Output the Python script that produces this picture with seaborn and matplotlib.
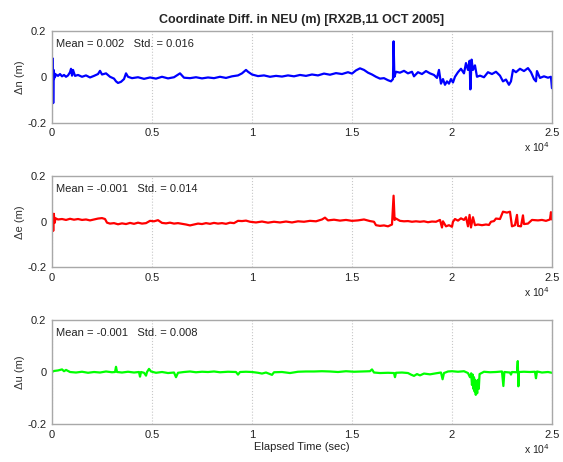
import numpy as np
import pandas as pd
import matplotlib
matplotlib.use("Agg")
import matplotlib.pyplot as plt
import seaborn as sns

# tempo (s) e differenze di coordinate (m)
t_n = [0, 40, 60, 80, 100, 120, 150, 200, 300, 400, 500, 600, 700, 800, 900, 950, 1000, 1050, 1150,
       1300, 1500, 1700, 1900, 2100, 2300, 2400, 2500, 2700, 2900, 3100, 3200, 3300, 3450, 3600, 3700,
       3800, 4000, 4300, 4600, 4900, 5200, 5500, 5800, 6100, 6400, 6600, 6900, 7200, 7500, 7800, 8100,
       8400, 8700, 9000, 9300, 9500, 9700, 9800, 10000, 10300, 10600, 10900, 11200, 11500, 11800, 12100,
       12400, 12700, 13000, 13300, 13600, 13900, 14200, 14500, 14800, 15000, 15200, 15400, 15600, 15800,
       16000, 16200, 16400, 16600, 16800, 16950, 17050, 17080, 17120, 17200, 17400, 17600, 17800, 18000,
       18100, 18300, 18500, 18700, 18900, 19100, 19250, 19350, 19450, 19550, 19650, 19750, 19850, 19950,
       20050, 20150, 20300, 20450, 20600, 20700, 20800, 20880, 20920, 20980, 21050, 21150, 21250, 21400,
       21600, 21800, 22000, 22200, 22400, 22550, 22700, 22850, 22950, 23050, 23200, 23400, 23600, 23800,
       23950, 24100, 24200, 24250, 24400, 24600, 24800, 24950, 25000]
dn = [0.005, 0.08, -0.115, 0.03, -0.01, 0.015, 0.0, 0.01, 0.004, 0.012, 0.002, 0.008, 0.0, 0.006, 0.02,
      0.035, 0.005, 0.03, 0.004, 0.008, 0.0, 0.006, -0.003, 0.004, 0.012, 0.026, 0.01, 0.015, 0.0, -0.008,
      -0.02, -0.027, -0.022, -0.01, 0.015, 0.0, -0.006, -0.002, -0.009, -0.003, -0.008, 0.0, -0.007, -0.002,
      0.015, -0.004, -0.006, -0.002, -0.007, -0.003, -0.006, 0.0, -0.005, 0.002, 0.006, 0.015, 0.03, 0.022,
      0.01, 0.003, 0.006, 0.0, 0.004, 0.001, 0.006, 0.002, 0.008, 0.004, 0.01, 0.006, 0.014, 0.009, 0.016,
      0.012, 0.02, 0.014, 0.028, 0.037, 0.03, 0.018, 0.01, 0.0, -0.008, -0.006, -0.015, -0.02, -0.01, 0.155,
      0.0, 0.022, 0.018, 0.026, 0.015, 0.022, 0.002, 0.02, 0.012, 0.025, 0.015, 0.008, -0.005, 0.03, -0.03,
      -0.01, -0.035, -0.02, -0.03, -0.01, -0.025, 0.0, 0.02, 0.035, 0.015, 0.06, 0.03, 0.07, -0.055, 0.075,
      0.03, 0.05, 0.0, 0.005, -0.002, 0.02, 0.012, 0.022, 0.005, -0.02, -0.012, -0.035, -0.02, 0.03, 0.02,
      0.035, 0.025, 0.038, 0.02, -0.01, -0.02, 0.025, -0.005, 0.002, -0.004, 0.0, -0.05]

t_e = [0, 30, 60, 90, 130, 180, 300, 500, 700, 900, 1100, 1300, 1500, 1700, 1900, 2100, 2300, 2500, 2650,
       2750, 2900, 3100, 3300, 3500, 3700, 3900, 4100, 4300, 4500, 4700, 4900, 5100, 5300, 5500, 5700,
       5900, 6100, 6300, 6500, 6700, 6900, 7100, 7300, 7500, 7700, 7900, 8100, 8300, 8500, 8700, 8900,
       9100, 9300, 9500, 9700, 9900, 10200, 10500, 10800, 11100, 11400, 11700, 12000, 12300, 12600, 12900,
       13200, 13500, 13650, 13800, 14100, 14400, 14700, 15000, 15300, 15600, 15900, 16100, 16200, 16400,
       16600, 16800, 17000, 17080, 17130, 17200, 17400, 17600, 17800, 18000, 18200, 18400, 18600, 18800,
       19000, 19200, 19400, 19500, 19550, 19700, 19850, 20000, 20050, 20150, 20300, 20450, 20600, 20700,
       20800, 20880, 20950, 21050, 21150, 21300, 21500, 21700, 21850, 21950, 22100, 22200, 22400, 22550,
       22750, 22900, 23000, 23150, 23250, 23300, 23450, 23550, 23600, 23800, 24000, 24300, 24500, 24700,
       24900, 24950, 25000]
de = [0.0, 0.03, -0.04, 0.035, -0.005, 0.015, 0.01, 0.012, 0.008, 0.013, 0.009, 0.012, 0.008, 0.01, 0.006,
      0.01, 0.014, 0.016, 0.012, -0.004, -0.008, -0.006, -0.011, -0.007, -0.01, -0.005, -0.009, -0.004,
      -0.008, -0.006, 0.004, 0.002, 0.007, -0.005, -0.007, -0.004, -0.008, -0.006, -0.009, -0.012, -0.016,
      -0.012, -0.008, -0.01, -0.006, -0.009, -0.005, -0.008, -0.006, -0.009, -0.004, -0.006, 0.004, 0.003,
      0.005, 0.0, -0.003, 0.001, -0.004, 0.0, -0.003, 0.001, -0.003, 0.002, 0.0, 0.004, 0.002, 0.01, 0.018,
      0.006, 0.009, 0.005, 0.008, 0.004, 0.006, 0.01, 0.003, 0.0, -0.015, -0.018, -0.016, -0.02, -0.012,
      0.114, 0.008, 0.014, 0.004, 0.002, 0.003, 0.0, 0.002, 0.0, 0.002, -0.002, 0.001, 0.0, 0.008, -0.025,
      0.002, -0.02, -0.015, -0.022, 0.0, 0.012, 0.005, 0.015, 0.008, 0.02, -0.02, 0.03, -0.025, 0.02,
      -0.015, -0.012, -0.015, -0.012, -0.014, 0.0, 0.003, 0.014, 0.012, 0.044, 0.04, 0.044, -0.02, -0.015,
      0.03, -0.018, -0.02, 0.028, -0.01, -0.008, 0.008, 0.006, 0.008, 0.004, 0.01, 0.042, 0.01]

t_u = [0, 100, 300, 500, 600, 700, 900, 1200, 1500, 1800, 2100, 2400, 2700, 3000, 3150, 3200, 3250, 3500,
       3800, 4100, 4350, 4400, 4450, 4600, 4700, 4750, 4850, 4950, 5200, 5500, 5800, 6100, 6200, 6300,
       6600, 6900, 7200, 7500, 7800, 8100, 8400, 8800, 9200, 9300, 9400, 9700, 10000, 10300, 10500, 10700,
       11000, 11100, 11500, 11900, 12300, 12700, 13100, 13500, 13900, 14300, 14700, 15100, 15500, 15900,
       16000, 16100, 16400, 16800, 17100, 17150, 17200, 17500, 17800, 17950, 18100, 18250, 18400, 18600,
       18900, 19200, 19450, 19530, 19600, 19800, 20000, 20300, 20600, 20800, 20900, 20960, 21000, 21040,
       21070, 21100, 21130, 21160, 21190, 21220, 21260, 21300, 21340, 21380, 21600, 21900, 22200, 22500,
       22570, 22620, 22900, 22950, 23000, 23250, 23290, 23320, 23350, 23600, 23900, 24150, 24200, 24250,
       24500, 24800, 25000]
du = [0.0, 0.004, 0.006, 0.01, 0.003, 0.008, 0.0, -0.002, 0.001, -0.003, 0.0, -0.002, 0.002, -0.001, 0.0,
      0.02, 0.0, -0.002, 0.001, -0.002, 0.0, -0.018, 0.0, -0.003, -0.014, 0.0, 0.012, 0.002, -0.003, 0.0,
      -0.004, -0.002, -0.02, -0.003, 0.0, 0.002, -0.001, 0.001, 0.0, 0.002, -0.001, 0.001, 0.0, -0.01, 0.0,
      0.001, 0.0, -0.003, -0.006, -0.002, -0.011, -0.001, 0.0, -0.004, 0.001, 0.002, 0.002, 0.003, 0.002,
      0.0, 0.003, 0.001, 0.002, 0.003, 0.01, -0.002, -0.004, -0.003, -0.004, -0.02, -0.003, -0.002, -0.004,
      -0.01, -0.015, -0.008, -0.013, -0.006, -0.009, -0.005, -0.002, -0.028, -0.004, 0.002, 0.003, 0.001,
      0.003, -0.004, -0.02, -0.005, -0.05, -0.01, -0.065, -0.02, -0.075, -0.03, -0.088, -0.035, -0.082,
      -0.03, -0.065, -0.008, 0.001, -0.001, 0.0, 0.002, -0.054, 0.0, -0.002, -0.01, 0.0, -0.001, 0.042,
      -0.055, 0.0, 0.001, 0.0, 0.001, -0.024, 0.002, -0.002, 0.0, -0.003]

etichette = ["\u0394n (m)", "\u0394e (m)", "\u0394u (m)"]
statistiche = ["Mean = 0.002   Std. = 0.016", "Mean = -0.001   Std. = 0.014", "Mean = -0.001   Std. = 0.008"]
colori = ["#0000ff", "#ff0000", "#00ff00"]
tick_x = [0, 5000, 10000, 15000, 20000, 25000]
tick_x_lab = ["0", "0.5", "1", "1.5", "2", "2.5"]

sns.set_style("white")
plt.rcParams["font.family"] = ["Liberation Sans", "DejaVu Sans"]

fig = plt.figure(figsize=(5.63, 4.62), dpi=100)
posizioni = [[0.0924, 0.7348, 0.888, 0.198],
             [0.0924, 0.421, 0.888, 0.198],
             [0.0924, 0.0823, 0.888, 0.225]]
serie = [(t_n, dn), (t_e, de), (t_u, du)]

for i in range(3):
    ax = fig.add_axes(posizioni[i])
    df = pd.DataFrame({"t": serie[i][0], "v": serie[i][1]})
    sns.lineplot(data=df, x="t", y="v", ax=ax, color=colori[i], lw=1.6, estimator=None, sort=False)
    ax.set_xlim(0, 25000)
    ax.set_ylim(-0.2, 0.2)
    ax.set_yticks([-0.2, 0, 0.2])
    ax.set_yticklabels(["-0.2", "0", "0.2"])
    ax.set_xticks(tick_x)
    ax.set_xticklabels(tick_x_lab)
    ax.xaxis.grid(True, linestyle=":", color="#c8c8c8", lw=0.8)
    ax.yaxis.grid(False)
    for s in ax.spines.values():
        s.set_color("#a8a8a8")
        s.set_linewidth(1.0)
    ax.tick_params(direction="in", length=3, color="#a8a8a8", labelsize=8, labelcolor="#222222", pad=4)
    ax.set_ylabel(etichette[i], fontsize=8, color="#333333", labelpad=2)
    ax.set_xlabel("")
    alt = posizioni[i][3] * 462
    ax.text(0.008, 1 - 13 / alt, statistiche[i], transform=ax.transAxes, fontsize=8, va="center",
            ha="left", color="#222222")
    ax.text(0.995, -25 / alt, "x 10$^4$", transform=ax.transAxes, fontsize=7.5, va="center",
            ha="right", color="#222222")
    if i == 0:
        ax.set_title("Coordinate Diff. in NEU (m) [RX2B,11 OCT 2005]", fontsize=9, fontweight="bold",
                     pad=6)
    if i == 2:
        ax.set_xlabel("Elapsed Time (sec)", fontsize=8, color="#222222", labelpad=2)

fig.savefig("out.png", dpi=100)
